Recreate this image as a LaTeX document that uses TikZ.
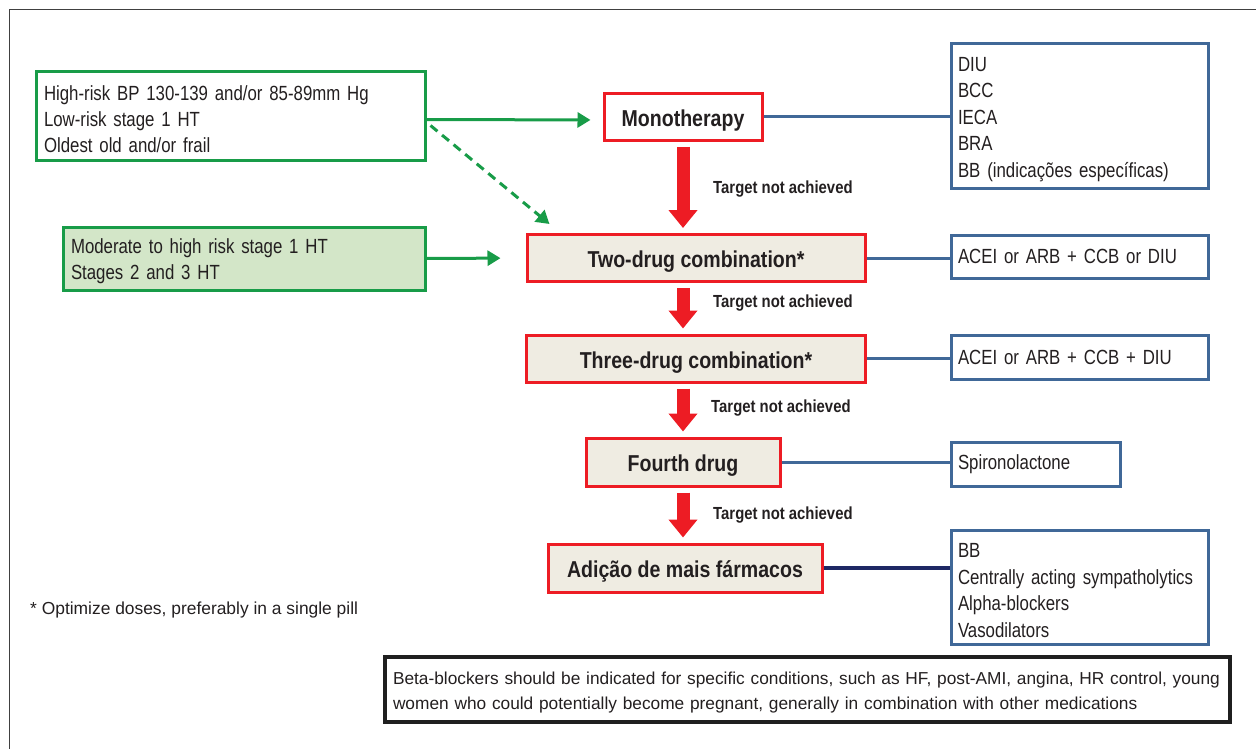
\documentclass[tikz,border=0pt]{standalone}
\usepackage{fontspec}
\setmainfont{Liberation Sans}
\newfontfamily\condf{Liberation Sans}[FakeStretch=0.82]
\newfontfamily\condbf{Liberation Sans Bold}[FakeStretch=0.85]
\newcommand\condsetup{\spaceskip=3.9pt plus 1pt minus 0.5pt\relax\hyphenpenalty=10000\relax}
\newcommand\firstlift{\vrule height 21pt depth 0pt width 0pt\relax}
\newcommand\notelift{\vrule height 18pt depth 0pt width 0pt\relax}
\usetikzlibrary{arrows.meta}
\definecolor{grn}{RGB}{24,156,72}
\definecolor{lgrn}{RGB}{211,230,200}
\definecolor{redc}{RGB}{237,28,36}
\definecolor{beige}{RGB}{239,236,226}
\definecolor{bluec}{RGB}{64,104,152}
\definecolor{navy}{RGB}{30,40,100}
\definecolor{txt}{RGB}{35,31,32}
\begin{document}
\begin{tikzpicture}[x=1pt,y=-1pt,
  every node/.style={text=txt},
  greenbox/.style={draw=grn, line width=3pt, align=left, inner xsep=8pt, inner ysep=0pt,
    font=\condf\fontsize{20.5}{26}\selectfont\condsetup},
  redbox/.style={draw=redc, line width=3pt, inner sep=0pt, text height=19.5pt, text depth=0pt,
    font=\condbf\fontsize{23}{27}\selectfont},
  bluebox/.style={draw=bluec, line width=3pt, align=left, inner xsep=7pt, inner ysep=0pt,
    font=\condf\fontsize{20.5}{26.4}\selectfont\condsetup},
  lbl/.style={anchor=west, inner sep=0pt, font=\condbf\fontsize{17.5}{20}\selectfont},
  bigarrow/.style={draw=redc, line width=13pt, -{Triangle[width=28pt,length=18pt]}, shorten <=5pt, shorten >=5pt},
  grarrow/.style={draw=grn, line width=3pt, -{Triangle[width=15pt,length=13pt]}},
  link/.style={draw=bluec, line width=3pt}
]
\useasboundingbox (0,0) rectangle (1256,749);
\draw[line width=1.5pt, black!75] (1256,9.5) -- (9.5,9.5) -- (9.5,749);

% left condition boxes
\node[greenbox, text width=373pt, minimum height=89pt] (g1) at (230.5,116.5)
  {\firstlift High-risk BP 130-139 and/or 85-89mm Hg\\Low-risk stage 1 HT\\Oldest old and/or frail};
\node[greenbox, fill=lgrn, text width=346pt, minimum height=63pt] (g2) at (244,258.5)
  {\firstlift Moderate to high risk stage 1 HT\\Stages 2 and 3 HT};

% treatment steps
\node[redbox, fill=white, minimum width=158pt, minimum height=47pt] (mono) at (683,117) {Monotherapy};
\node[redbox, fill=beige, minimum width=338pt, minimum height=47pt] (two) at (696,258) {Two-drug combination*};
\node[redbox, fill=beige, minimum width=339pt, minimum height=47pt] (three) at (696,358.5) {Three-drug combination*};
\node[redbox, fill=beige, minimum width=194pt, minimum height=48pt] (four) at (683,462) {Fourth drug};
\node[redbox, fill=beige, minimum width=274pt, minimum height=48pt] (more) at (685,568) {Adição de mais fármacos};

% drug boxes
\node[bluebox, text width=243pt, minimum height=144pt] (bA) at (1079.5,116)
  {\firstlift DIU\\BCC\\IECA\\BRA\\BB (indicações específicas)};
\node[bluebox, text width=243pt, minimum height=43pt] (bB) at (1079.5,256.5) {ACEI or ARB + CCB or DIU};
\node[bluebox, text width=243pt, minimum height=44pt] (bC) at (1079.5,357) {ACEI or ARB + CCB + DIU};
\node[bluebox, text width=155pt, minimum height=44pt] (bD) at (1035.5,464) {Spironolactone};
\node[bluebox, text width=243pt, minimum height=114pt] (bE) at (1079.5,587)
  {\firstlift BB\\Centrally acting sympatholytics\\Alpha-blockers\\Vasodilators};

% green arrows
\draw[grarrow, shorten >=12pt] ([yshift=-3]g1.east) -- ([yshift=-3]mono.west);
\draw[grarrow, shorten >=25pt] (g2.east) -- (two.west);
\draw[grarrow, dash pattern=on 9pt off 6pt] ([shift={(4,9)}]g1.east) -- ([shift={(24,-9)}]two.north west);

% red step arrows
\draw[bigarrow] (mono.south) -- (mono.south |- two.north);
\draw[bigarrow] (two.south -| mono.south) -- (three.north -| mono.south);
\draw[bigarrow] (three.south -| mono.south) -- (four.north -| mono.south);
\draw[bigarrow] (four.south -| mono.south) -- (more.north -| mono.south);

\node[lbl] (t1) at (713,189) {Target not achieved};
\node[lbl] (t2) at (713,303) {Target not achieved};
\node[lbl] (t3) at (711,408) {Target not achieved};
\node[lbl] (t4) at (713,515) {Target not achieved};

% blue links
\draw[link] (mono.east) -- (mono.east -| bA.west);
\draw[link] (two.east) -- (two.east -| bB.west);
\draw[link] (three.east) -- (three.east -| bC.west);
\draw[link] (four.east) -- (four.east -| bD.west);
\draw[draw=navy, line width=4pt] (more.east) -- (more.east -| bE.west);

% notes
\node[anchor=west, inner sep=0pt, font=\fontsize{17.4}{20}\selectfont] (note) at (30,610)
  {* Optimize doses, preferably in a single pill};
\node[draw=black!88, line width=4pt, text width=829pt, inner xsep=8pt, inner ysep=0pt,
  minimum height=65pt, align=left, font=\fontsize{17.3}{25}\selectfont] (bbnote) at (807.5,689.5)
  {\notelift Beta-blockers should be indicated for specific conditions, such as HF, post-AMI, angina, HR control, young\\women who could potentially become pregnant, generally in combination with other medications};
\end{tikzpicture}
\end{document}
